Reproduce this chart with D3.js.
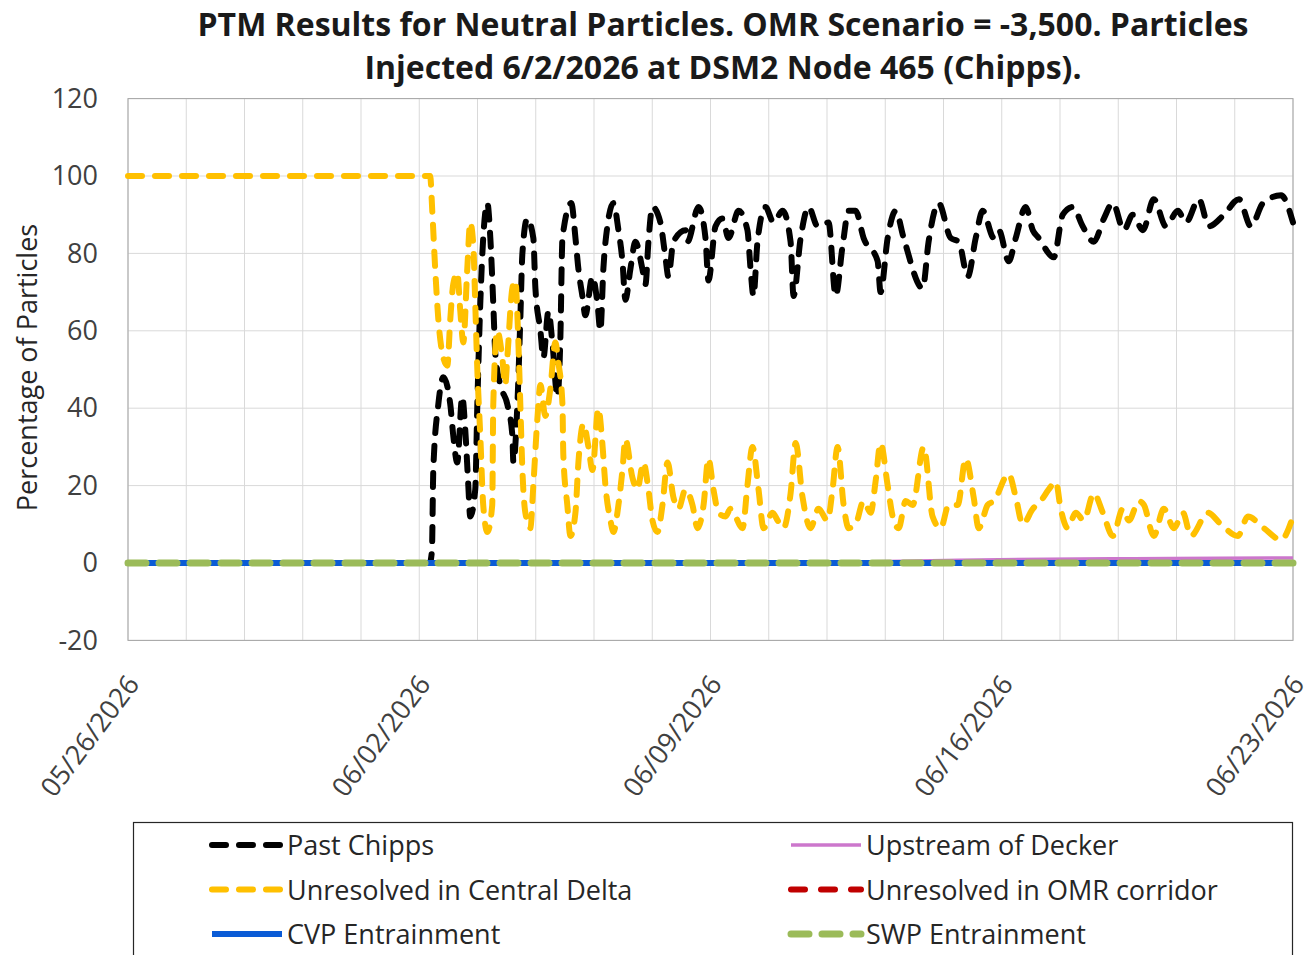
<!DOCTYPE html>
<html><head><meta charset="utf-8">
<script src="https://cdn.jsdelivr.net/npm/d3@7/dist/d3.min.js"></script>
<style>
html,body{margin:0;padding:0;background:#fff;}
svg{display:block;font-family:"Open Sans",Lato,sans-serif;}
</style></head><body>
<svg id="chart" width="1314" height="955"></svg>
<script>
// ---------- DATA ----------
const titleLines = ["PTM Results for Neutral Particles. OMR Scenario = -3,500. Particles",
                    "Injected 6/2/2026 at DSM2 Node 465 (Chipps)."];
const yAxisTitle = "Percentage of Particles";
const startDate = "2026-05-26";
const totalHours = 672;
const xTickLabels = ["05/26/2026","06/02/2026","06/09/2026","06/16/2026","06/23/2026"];
const yTicks = [-20,0,20,40,60,80,100,120];

// hours since 05/26/2026 00:00
const chippsHours = [0,174,175.3,176.1,179.0,181.9,185.9,187.6,189.9,192.8,194.6,196.3,197.4,200.3,201.5,203.2,204.9,207.3,209.0,210.7,211.9,214.8,218.8,221.7,222.3,224.6,226.3,227.5,230.3,233.8,235.0,237.9,239.6,242.5,244.8,247.7,249.4,250.6,255.7,258.1,259.8,262.1,263.8,267.9,270.8,272.5,274.2,276.5,280.0,282.9,285.2,286.9,289.8,292.7,296.7,298.5,300.2,302.5,307.1,310.0,311.7,314.6,321.6,322.7,329.1,333.1,334.8,338.9,342.9,346.4,352.2,357.3,359.1,360.8,363.1,367.7,372.4,377.6,382.2,383.9,388.0,392.6,397.8,404.1,408.2,412.2,415.7,419.7,424.3,432.4,434.1,438.2,442.8,447.4,458.4,461.8,467.6,474.5,479.2,484.4,489.0,493.0,499.4,502.3,508.0,512.1,517.8,521.9,525.3,534.0,539.2,545.0,550.7,557.1,562.9,568.1,574.4,579.6,585.4,591.7,598.7,605.6,610.2,617.7,623.5,632.2,640.8,647.7,654.7,665.1,672];
const chippsValues = [0,0,3,24,41,48,41,33,26,43,34,20,12,19,41,67,84,93,84,67,54,46,41,33,26,41,63,80,89,84,71,60,53,65,57,43,58,84,93,84,76,69,64,74,67,60,76,87,93,86,78,68,76,83,76,72,83,92,88,79,74,83,86,83,92,84,73,87,89,84,91,86,76,69,83,92,88,91,83,69,84,92,87,88,69,82,91,91,84,78,70,84,91,84,71,83,93,84,83,74,84,91,84,86,78,84,92,86,84,79,90,92,87,83,89,93,86,90,86,94,87,91,88,94,87,90,94,87,93,95,88];

const deltaHours = [0,174.3,175.5,177.2,179.0,181.9,184.2,185.9,187.6,189.9,191.7,193.4,195.7,197.4,199.2,200.3,201.5,203.2,204.9,207.3,210.1,210.7,213.0,215.9,217.6,218.8,221.7,223.4,225.1,226.3,227.5,229.2,232.1,233.8,236.1,237.9,240.7,243.6,246.5,248.2,250.6,251.1,253.4,255.2,258.1,259.8,262.7,265.6,267.9,271.3,273.6,275.4,278.3,280.0,282.9,285.2,286.9,291.0,293.8,297.3,300.2,302.5,305.4,308.3,311.2,314.6,317.5,321.6,325.6,328.5,332.0,334.8,337.7,340.6,344.7,347.5,350.4,354.5,357.3,360.2,363.7,366.6,371.8,374.7,378.1,382.2,385.1,389.1,393.7,398.3,403.5,406.4,409.3,412.8,415.7,419.7,424.3,428.4,431.2,434.1,438.2,441.1,444.5,448.6,452.6,459.0,464.1,468.8,473.4,478.6,483.2,487.8,490.7,495.9,499.4,508.0,512.1,516.1,521.9,526.5,531.1,535.2,538.0,542.1,546.7,551.3,557.1,562.3,568.1,573.8,577.3,583.1,586.0,591.7,597.5,603.3,608.5,613.1,622.9,630.4,640.2,646.0,655.2,665.1,672];
const deltaValues = [100,100,91,76,63,53,51,63,72,75,65,57,76,88,82,67,50,33,15,8,15,41,60,53,46,53,71,73,58,41,24,13,9,20,37,46,38,45,57,52,41,28,15,7,13,26,36,30,24,40,31,20,11,8,15,24,32,22,19,26,19,11,8,15,26,17,14,19,15,9,15,27,19,13,12,14,12,9,20,30,19,9,13,11,9,18,31,17,9,14,11,19,30,15,9,10,16,13,21,31,20,12,9,16,15,30,12,9,15,15,27,17,9,15,16,23,17,10,14,16,19,21,14,9,13,11,18,13,7,14,11,16,15,7,14,9,13,7,13,10,7,12,9,6,12];

const deckerHours = [0,380,430,480,530,580,630,672];
const deckerValues = [0,0,0.3,0.7,1.0,1.1,1.2,1.3];

const zeroHours = [0,672];
const omrValues = [0,0];
const cvpValues = [0,0];
const swpValues = [0,0];

const legendLabels = ["Past Chipps","Upstream of Decker","Unresolved in Central Delta","Unresolved in OMR corridor","CVP Entrainment","SWP Entrainment"];

// ---------- STYLES ----------
const series = [
  {name:"Past Chipps", hours:chippsHours, values:chippsValues, color:"#000000", width:6, dash:"14 13"},
  {name:"Upstream of Decker", hours:deckerHours, values:deckerValues, color:"#CC77CC", width:3.5, dash:null},
  {name:"Unresolved in Central Delta", hours:deltaHours, values:deltaValues, color:"#FFC000", width:6, dash:"14 13"},
  {name:"Unresolved in OMR corridor", hours:zeroHours, values:omrValues, color:"#C00000", width:6, dash:"14 16"},
  {name:"CVP Entrainment", hours:zeroHours, values:cvpValues, color:"#0A5BD6", width:6, dash:null},
  {name:"SWP Entrainment", hours:zeroHours, values:swpValues, color:"#9BBB59", width:7, dash:"18 13"}
];

const svg = d3.select("#chart");
const plot = {left:128, right:1293, top:98.6, bottom:640.4};
const FONT = "'Open Sans', Lato, sans-serif";

const t0 = new Date(startDate + "T00:00:00");
const toDate = h => new Date(t0.getTime() + h*3600*1000);

const x = d3.scaleTime().domain([toDate(0), toDate(totalHours)]).range([plot.left, plot.right]);
const y = d3.scaleLinear().domain([-20,120]).range([plot.bottom, plot.top]);

// title
svg.append("g").selectAll("text").data(titleLines).join("text")
  .attr("x", 723).attr("y", (d,i)=> 36 + i*43)
  .attr("text-anchor","middle")
  .attr("font-size", 32).attr("font-weight","bold").attr("fill","#1a1a1a")
  .text(d=>d);

// gridlines
const gridV = d3.range(0, 21).map(i => toDate(i*totalHours/20));
svg.append("g").selectAll("line").data(gridV).join("line")
  .attr("x1", d=>x(d)).attr("x2", d=>x(d)).attr("y1", plot.top).attr("y2", plot.bottom)
  .attr("stroke","#D9D9D9").attr("stroke-width",1);
svg.append("g").selectAll("line").data(yTicks).join("line")
  .attr("x1", plot.left).attr("x2", plot.right).attr("y1", d=>y(d)).attr("y2", d=>y(d))
  .attr("stroke","#D9D9D9").attr("stroke-width",1);

// plot border
svg.append("rect").attr("x",plot.left).attr("y",plot.top)
  .attr("width",plot.right-plot.left).attr("height",plot.bottom-plot.top)
  .attr("fill","none").attr("stroke","#A6A6A6").attr("stroke-width",1);

// y axis labels
const yAxis = d3.axisLeft(y).tickValues(yTicks).tickSize(0).tickPadding(30).tickFormat(d=>String(d));
const gy = svg.append("g").attr("transform",`translate(${plot.left},0)`).call(yAxis);
gy.select(".domain").remove();
gy.selectAll("text").attr("font-size",27).attr("fill","#404040").attr("font-family",FONT);

svg.append("text").attr("transform",`translate(37,${(plot.top+plot.bottom)/2 - 2}) rotate(-90)`)
  .attr("text-anchor","middle").attr("font-size",27).attr("fill","#262626").text(yAxisTitle);

// x axis labels
const xTickDates = xTickLabels.map(s => { const [m,d,yy] = s.split("/"); return new Date(`${yy}-${m}-${d}T00:00:00`); });
const xAxis = d3.axisBottom(x).tickValues(xTickDates).tickSize(0).tickFormat((d,i)=>xTickLabels[i]);
const gx = svg.append("g").attr("transform",`translate(0,${plot.bottom})`).call(xAxis);
gx.select(".domain").remove();
gx.selectAll("text")
  .attr("font-size",27).attr("fill","#404040").attr("font-family",FONT)
  .attr("text-anchor","end").attr("dy",0).attr("y",0)
  .attr("transform","translate(12,44) rotate(-53)");

// lines
const line = d3.line().x(d=>x(toDate(d[0]))).y(d=>y(d[1])).curve(d3.curveMonotoneX);
const gl = svg.append("g");
series.forEach(s=>{
  const pts = s.hours.map((h,i)=>[h, s.values[i]]);
  gl.append("path").datum(pts).attr("d", line)
    .attr("fill","none").attr("stroke", s.color).attr("stroke-width", s.width)
    .attr("stroke-linecap", s.dash ? "round" : "butt").attr("stroke-linejoin","round")
    .attr("stroke-dasharray", s.dash);
});

// legend
svg.append("rect").attr("x",133.5).attr("y",822.5).attr("width",1159).attr("height",140)
  .attr("fill","none").attr("stroke","#262626").attr("stroke-width",1.2);
const legendOrder = ["Past Chipps","Upstream of Decker","Unresolved in Central Delta","Unresolved in OMR corridor","CVP Entrainment","SWP Entrainment"];
const lg = svg.append("g");
legendOrder.forEach((name,i)=>{
  const s = series.find(v=>v.name===name);
  const col = i%2, row = Math.floor(i/2);
  const lx = col===0 ? 212 : 791, ly = 845 + row*44.5;
  lg.append("line").attr("x1",lx).attr("x2",lx+70).attr("y1",ly).attr("y2",ly)
    .attr("stroke",s.color).attr("stroke-width",s.width)
    .attr("stroke-linecap", s.dash ? "round" : "butt")
    .attr("stroke-dasharray", s.dash);
  lg.append("text").attr("x",lx+75).attr("y",ly+10).attr("font-size",27).attr("fill","#262626").text(legendLabels[i]);
});
</script>
</body></html>
